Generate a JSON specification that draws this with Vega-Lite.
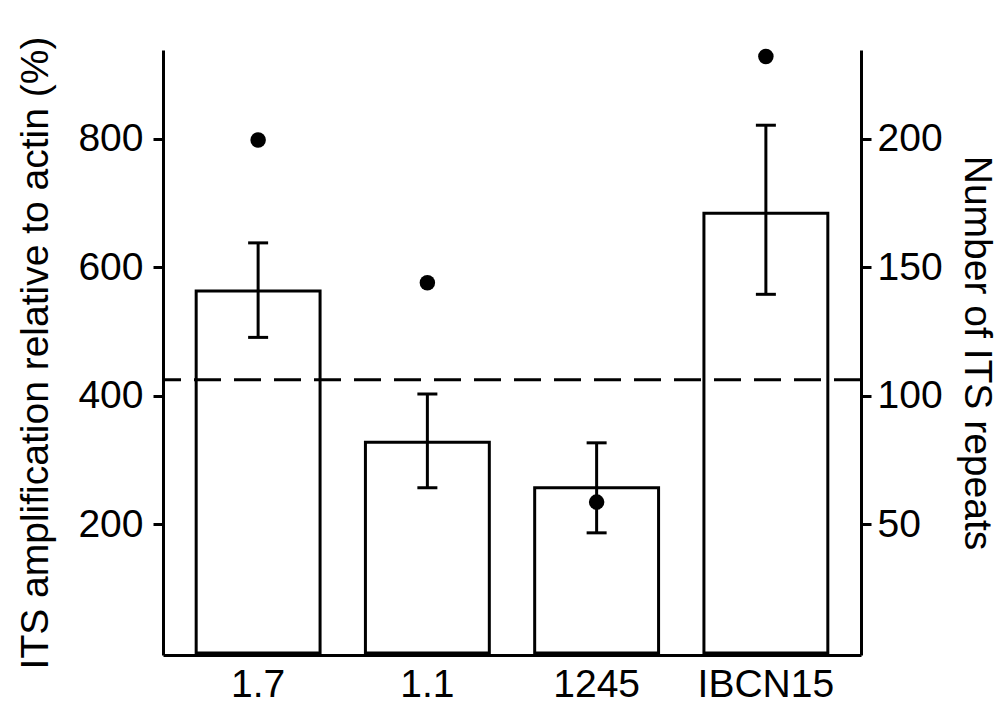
{
  "$schema": "https://vega.github.io/schema/vega-lite/v6.json",
  "autosize": "none",
  "width": 698,
  "height": 605,
  "padding": {"left": 163, "top": 50, "right": 139, "bottom": 48},
  "background": "white",
  "data": {"values": [
    {"strain": "1.7", "amp": 563, "lo": 491, "hi": 638, "repeats": 199.5},
    {"strain": "1.1", "amp": 328, "lo": 257, "hi": 403, "repeats": 144},
    {"strain": "1245", "amp": 257, "lo": 187, "hi": 327, "repeats": 58.7},
    {"strain": "IBCN15", "amp": 684, "lo": 558, "hi": 821, "repeats": 232}
  ]},
  "encoding": {
    "x": {"field": "strain", "type": "nominal", "sort": null, "title": null,
          "scale": {"paddingInner": 0.268, "paddingOuter": 0.196}}
  },
  "layer": [
    {
      "layer": [
        {
          "mark": {"type": "bar", "fill": "white", "stroke": "black", "strokeWidth": 3},
          "encoding": {
            "y": {"field": "amp", "type": "quantitative", "scale": {"domain": [-3, 938], "nice": false, "zero": false},
                  "axis": {"values": [200, 400, 600, 800], "title": "ITS amplification relative to actin (%)", "orient": "left"}},
            "y2": {"datum": 0}
          }
        },
        {
          "mark": {"type": "rule", "color": "black", "strokeWidth": 3},
          "encoding": {
            "y": {"field": "lo", "type": "quantitative", "scale": {"domain": [-3, 938], "nice": false, "zero": false},
                  "axis": {"values": [200, 400, 600, 800], "title": "ITS amplification relative to actin (%)", "orient": "left"}},
            "y2": {"field": "hi"}
          }
        },
        {
          "mark": {"type": "tick", "orient": "horizontal", "size": 20, "thickness": 3, "color": "black", "opacity": 1},
          "encoding": {
            "y": {"field": "lo", "type": "quantitative", "scale": {"domain": [-3, 938], "nice": false, "zero": false},
                  "axis": {"values": [200, 400, 600, 800], "title": "ITS amplification relative to actin (%)", "orient": "left"}}
          }
        },
        {
          "mark": {"type": "tick", "orient": "horizontal", "size": 20, "thickness": 3, "color": "black", "opacity": 1},
          "encoding": {
            "y": {"field": "hi", "type": "quantitative", "scale": {"domain": [-3, 938], "nice": false, "zero": false},
                  "axis": {"values": [200, 400, 600, 800], "title": "ITS amplification relative to actin (%)", "orient": "left"}}
          }
        },
        {
          "data": {"values": [{"threshold": 425}]},
          "mark": {"type": "rule", "color": "black", "strokeWidth": 3, "strokeDash": [27, 13]},
          "encoding": {
            "x": null,
            "y": {"field": "threshold", "type": "quantitative", "scale": {"domain": [-3, 938], "nice": false, "zero": false},
                  "axis": {"values": [200, 400, 600, 800], "title": "ITS amplification relative to actin (%)", "orient": "left"}}
          }
        }
      ]
    },
    {
      "mark": {"type": "circle", "size": 240, "color": "black", "opacity": 1},
      "encoding": {
        "y": {"field": "repeats", "type": "quantitative", "scale": {"domain": [-0.75, 234.5], "nice": false, "zero": false},
              "axis": {"values": [50, 100, 150, 200], "title": "Number of ITS repeats", "orient": "right"}}
      }
    }
  ],
  "resolve": {"scale": {"y": "independent"}},
  "config": {
    "view": {"stroke": null},
    "axis": {"domainColor": "black", "domainWidth": 3, "domainCap": "butt", "tickColor": "black", "tickWidth": 3, "tickSize": 10,
             "labelFont": "Liberation Sans", "labelFontSize": 39, "labelColor": "black",
             "titleFont": "Liberation Sans", "titleFontSize": 39, "titleFontWeight": "normal", "titleColor": "black", "grid": false},
    "axisLeft": {"labelPadding": 10, "titlePadding": 22},
    "axisRight": {"labelPadding": 6, "titlePadding": 14},
    "axisBottom": {"ticks": false, "labelPadding": 10, "labelAngle": 0}
  }
}
